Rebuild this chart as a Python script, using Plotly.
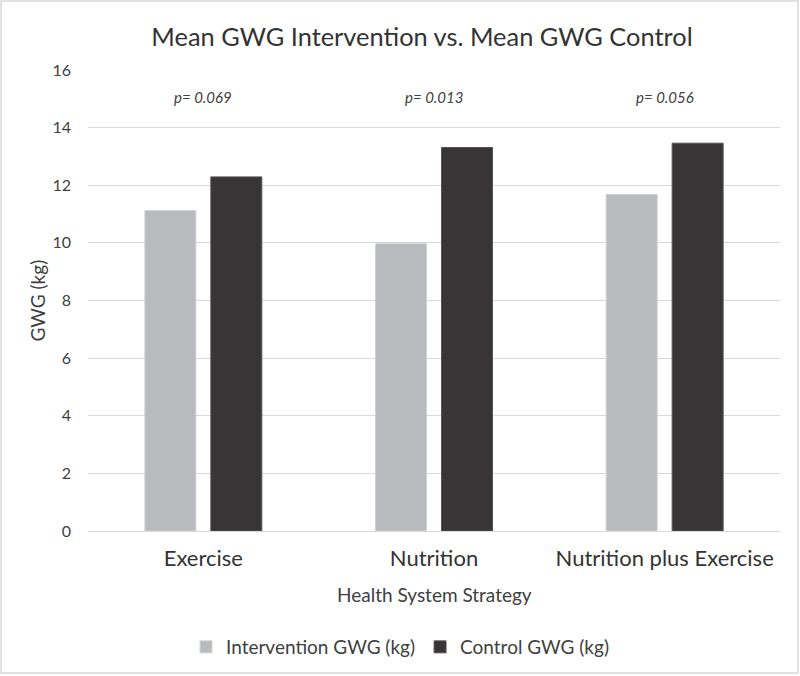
import plotly.graph_objects as go

categories = ["Exercise", "Nutrition", "Nutrition plus Exercise"]
intervention = [11.12, 9.97, 11.68]
control = [12.29, 13.31, 13.46]
p_values = ["p= 0.069", "p= 0.013", "p= 0.056"]
y_ticks = [0, 2, 4, 6, 8, 10, 12, 14, 16]

FONT = "Lato"
TXT = "#404040"

W, H = 800, 676
L, R, T, B = 88, 20, 70, 145
PW, PH = W - L - R, H - T - B

fig = go.Figure()
fig.add_trace(go.Bar(
    x=categories, y=intervention, name="Intervention GWG (kg)",
    marker=dict(color="#B9BABD", line=dict(color="#D0D1D3", width=1)),
))
fig.add_trace(go.Bar(
    x=categories, y=control, name="Control GWG (kg)",
    marker=dict(color="#373536", line=dict(color="#555555", width=1)),
))

for cat, p in zip(categories, p_values):
    fig.add_annotation(x=cat, y=1, xref="x", yref="paper", yshift=-27,
                       text=f"<i>{p}</i>", showarrow=False,
                       font=dict(family=FONT, size=15, color=TXT),
                       yanchor="middle")

fig.add_annotation(x=(37 - L) / PW, y=0.5, xref="paper", yref="paper",
                   text="GWG (kg)", showarrow=False, textangle=-90,
                   xanchor="center", yanchor="middle",
                   font=dict(family=FONT, size=19, color=TXT))
fig.add_annotation(x=(434 - L) / PW, y=(T + PH - 594) / PH, xref="paper", yref="paper",
                   text="Health System Strategy", showarrow=False,
                   xanchor="center", yanchor="middle",
                   font=dict(family=FONT, size=19, color=TXT))

fig.update_layout(
    width=W, height=H,
    margin=dict(l=L, r=R, t=T, b=B, autoexpand=False),
    paper_bgcolor="white", plot_bgcolor="white",
    barmode="group", bargap=0.428, bargroupgap=0.227,
    title=dict(text="Mean GWG Intervention vs. Mean GWG Control",
               x=422 / W, xanchor="center", xref="container",
               y=1 - 37 / H, yanchor="middle", yref="container",
               font=dict(family=FONT, size=25.4, color="#333333")),
    font=dict(family=FONT, color=TXT),
    legend=dict(orientation="h", x=0.5, xanchor="center", xref="container",
                y=1 - 647 / H, yanchor="middle", yref="container",
                font=dict(family=FONT, size=19, color=TXT),
                itemwidth=30, tracegroupgap=0),
    xaxis=dict(showgrid=False, showline=False, ticks="",
               tickfont=dict(family=FONT, size=22, color="#333333"),
               ticklabelstandoff=12),
    yaxis=dict(range=[0, 16], tickvals=y_ticks, showgrid=True,
               gridcolor="#D9D9D9", gridwidth=1, zeroline=True,
               zerolinecolor="#D9D9D9", zerolinewidth=1, showline=False,
               ticks="", ticklabelstandoff=16,
               tickfont=dict(family=FONT, size=16, color=TXT)),
)

# chart-area border
fig.add_shape(type="rect", xref="paper", yref="paper",
              x0=(1 - L) / PW, x1=(798 - L) / PW,
              y0=(T + PH - 673) / PH, y1=(T + PH - 1) / PH,
              line=dict(color="#D9D9D9", width=1.5), fillcolor="rgba(0,0,0,0)")

fig.write_html("out.html", config={"displayModeBar": False},
               post_script="document.body.style.margin='0px';document.body.style.padding='0px';")
